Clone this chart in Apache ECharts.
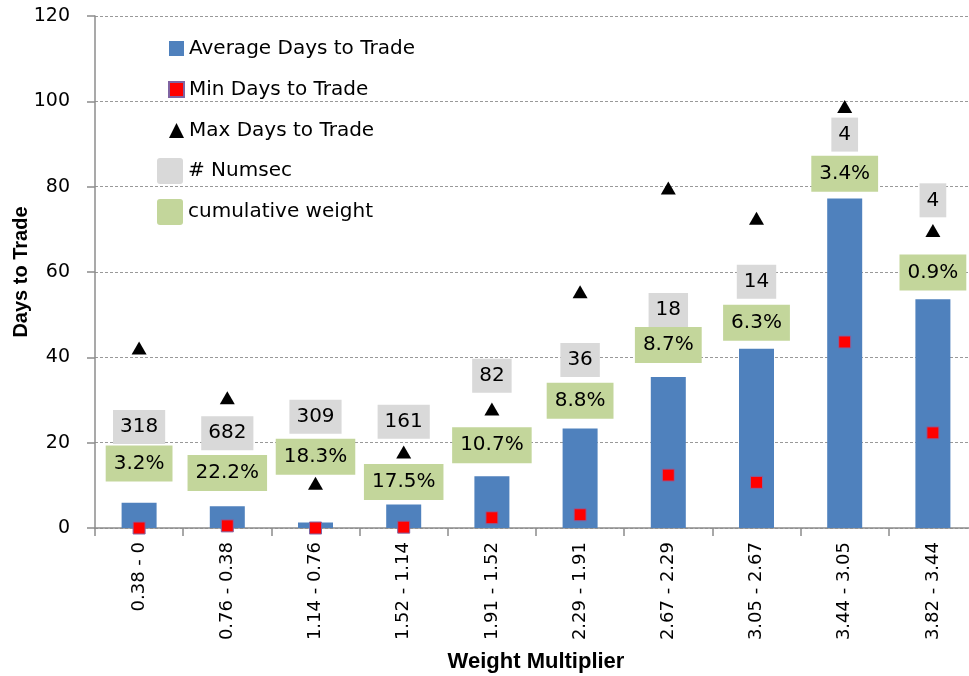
<!DOCTYPE html>
<html>
<head>
<meta charset="utf-8">
<script src="https://cdn.jsdelivr.net/npm/echarts@6/dist/echarts.min.js"></script>
<style>
  html, body { margin: 0; padding: 0; background: #fff; overflow: hidden; }
  #main { width: 969px; height: 676px; }
</style>
</head>
<body>
<div id="main"></div>
<script>
// categories and values
const categories = ["0.38 - 0", "0.76 - 0.38", "1.14 - 0.76", "1.52 - 1.14", "1.91 - 1.52",
                    "2.29 - 1.91", "2.67 - 2.29", "3.05 - 2.67", "3.44 - 3.05", "3.82 - 3.44"];
const avgDays = [5.9, 5.1, 1.3, 5.5, 12.1, 23.3, 35.4, 42.0, 77.2, 53.6];
const minDays = [0, 0.5, 0, 0.2, 2.4, 3.1, 12.4, 10.7, 43.6, 22.3];
const maxDays = [42.2, 30.5, 10.5, 17.8, 27.9, 55.4, 79.7, 72.6, 98.8, 69.7];
const numsec = [318, 682, 309, 161, 82, 36, 18, 14, 4, 4];
const cumWeight = ["3.2%", "22.2%", "18.3%", "17.5%", "10.7%", "8.8%", "8.7%", "6.3%", "3.4%", "0.9%"];
// value (on the Days axis) where each data label box sits
const numsecAt = [23.7, 22.2, 26.1, 24.9, 35.7, 39.4, 51.1, 57.7, 92.2, 76.8];
const weightAt = [15.1, 12.9, 16.7, 10.8, 19.4, 29.8, 42.9, 48.1, 83.0, 59.9];
const yTicks = { min: 0, max: 120, interval: 20 };

const font = "DejaVu Sans";
// square with slightly rounded corners, like the Excel legend swatches
const swatch = "path://M3,0 H23 Q26,0 26,3 V23 Q26,26 23,26 H3 Q0,26 0,23 V3 Q0,0 3,0 Z";

let chart = echarts.init(document.getElementById("main"));
chart.setOption({
    animation: false,
    backgroundColor: "#fff",
    textStyle: { fontFamily: font },
    // the plot runs a little past the right edge of the picture
    grid: { left: 95, right: -8, top: 16, bottom: 148, outerBoundsMode: "none" },
    legend: [
        {
            orient: "vertical",
            left: 163, top: 33,
            itemWidth: 15, itemHeight: 15, itemGap: 20,
            textStyle: { fontFamily: font, fontSize: 20, color: "#000", lineHeight: 21 },
            data: [
                { name: "Average Days to Trade", icon: "rect" },
                { name: "Min Days to Trade", icon: "rect" },
                { name: "Max Days to Trade", icon: "triangle" }
            ]
        },
        {
            orient: "vertical",
            left: 152, top: 153,
            itemWidth: 26, itemHeight: 26, itemGap: 15,
            textStyle: { fontFamily: font, fontSize: 20, color: "#000" },
            data: [
                { name: "# Numsec", icon: swatch },
                { name: "cumulative weight", icon: swatch }
            ]
        }
    ],
    xAxis: {
        type: "category",
        data: categories,
        name: "Weight Multiplier",
        nameLocation: "middle",
        nameGap: 123,
        nameMoveOverlap: false,
        nameTextStyle: { fontFamily: "Liberation Sans", fontWeight: "bold", fontSize: 22, color: "#000" },
        axisLine: { lineStyle: { color: "#8c8c8c", width: 1.5 } },
        axisTick: { show: true, length: 8, lineStyle: { color: "#8c8c8c", width: 1.5 } },
        axisLabel: { rotate: 90, fontSize: 18, color: "#000", margin: 14 }
    },
    yAxis: {
        type: "value",
        min: yTicks.min, max: yTicks.max, interval: yTicks.interval,
        name: "Days to Trade",
        nameLocation: "middle",
        nameGap: 64,
        nameMoveOverlap: false,
        nameTextStyle: { fontFamily: "Liberation Sans", fontWeight: "bold", fontSize: 20, color: "#000" },
        axisLine: { show: true, lineStyle: { color: "#8c8c8c", width: 1.5 } },
        axisTick: { show: true, length: 8, lineStyle: { color: "#8c8c8c", width: 1.5 } },
        axisLabel: { fontSize: 19, color: "#000", margin: 25 },
        splitLine: { lineStyle: { color: "#999", type: [3, 2], width: 1 } }
    },
    series: [
        {
            name: "Average Days to Trade",
            type: "bar",
            data: avgDays,
            barWidth: 35,
            itemStyle: { color: "#4f81bd" }
        },
        {
            name: "Min Days to Trade",
            type: "scatter",
            data: minDays,
            symbol: "rect",
            symbolSize: 12,
            z: 5,
            itemStyle: { color: "#ff0000", borderColor: "#8064a2", borderWidth: 1, opacity: 1 }
        },
        {
            name: "Max Days to Trade",
            type: "scatter",
            data: maxDays,
            symbol: "triangle",
            symbolSize: [15, 13],
            z: 5,
            itemStyle: { color: "#000", opacity: 1 }
        },
        {
            name: "# Numsec",
            type: "scatter",
            data: numsecAt,
            symbolSize: 0,
            z: 6,
            itemStyle: { color: "#d9d9d9", opacity: 1 },
            label: {
                show: true,
                position: "inside",
                formatter: function (p) { return numsec[p.dataIndex]; },
                fontFamily: font, fontSize: 20, color: "#000",
                backgroundColor: "#d9d9d9",
                padding: [6, 7, 4, 7],
                lineHeight: 24
            }
        },
        {
            name: "cumulative weight",
            type: "scatter",
            data: weightAt,
            symbolSize: 0,
            z: 6,
            itemStyle: { color: "#c3d69b", opacity: 1 },
            label: {
                show: true,
                position: "inside",
                formatter: function (p) { return cumWeight[p.dataIndex]; },
                fontFamily: font, fontSize: 20, color: "#000",
                backgroundColor: "#c3d69b",
                padding: [7, 8, 5, 8],
                lineHeight: 24
            }
        }
    ]
});
</script>
</body>
</html>
